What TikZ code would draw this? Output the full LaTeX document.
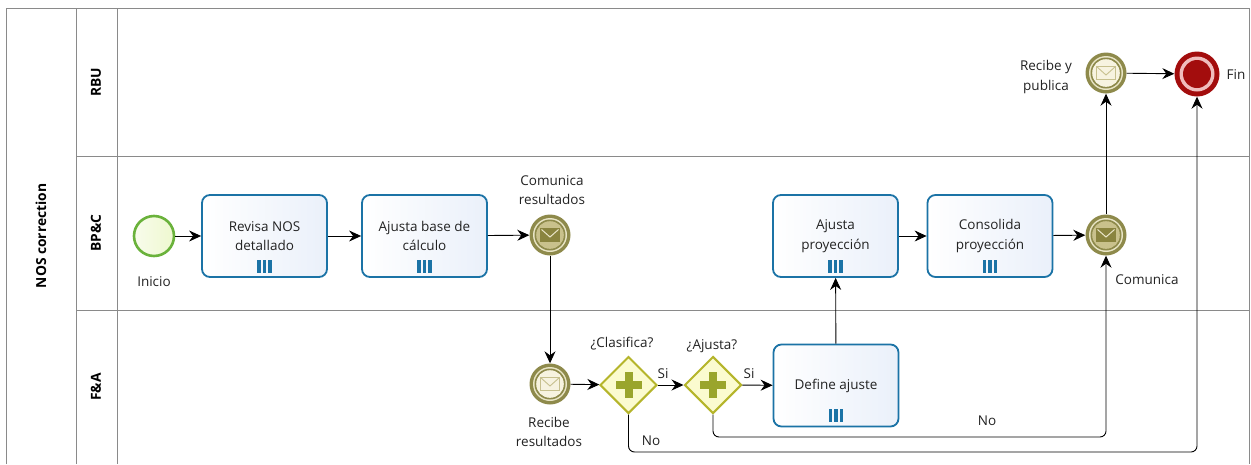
\documentclass[tikz,border=0pt]{standalone}
\usepackage{fontspec}
\setmainfont{Open Sans}
\usetikzlibrary{arrows.meta,shapes.geometric,calc}

\definecolor{poolline}{HTML}{8A8A8A}
\definecolor{taskblue}{HTML}{1B73A6}
\definecolor{taskfillR}{HTML}{EAF0FA}
\definecolor{olive}{HTML}{8E8A4B}
\definecolor{olivegap}{HTML}{E9E5C6}
\definecolor{throwfill}{HTML}{C9C18C}
\definecolor{envdark}{HTML}{8A843F}
\definecolor{envlight}{HTML}{EAE5C8}
\definecolor{catchfill}{HTML}{F7F3E0}
\definecolor{catchenv}{HTML}{C7C08E}
\definecolor{gwline}{HTML}{B5B52B}
\definecolor{gwfill}{HTML}{FBFBCF}
\definecolor{gwplus}{HTML}{9AA52C}
\definecolor{endred}{HTML}{A30D0D}
\definecolor{endpink}{HTML}{F0BDBD}
\definecolor{startgreen}{HTML}{6AB23B}
\definecolor{startfill}{HTML}{EEF8CF}
\definecolor{txt}{HTML}{222222}

\tikzset{
  lbl/.style={text=txt, font=\fontsize{13.5}{19.5}\selectfont, align=center, inner sep=0pt},
  lanelbl/.style={text=black, font=\bfseries\fontsize{13.8}{16}\selectfont, rotate=90, inner sep=0pt},
  task/.style={rectangle, rounded corners=8pt, draw=taskblue, line width=1.8pt,
    left color=white, right color=taskfillR, minimum width=125pt, minimum height=82pt,
    text=txt, font=\fontsize{13.5}{19.5}\selectfont, align=center, inner sep=0pt},
  msgev/.style={circle, fill=olive, draw=none, minimum size=41pt, inner sep=0pt},
  startev/.style={circle, draw=startgreen, line width=2.6pt, left color=startfill!40!white,
    right color=startfill, minimum size=40pt, inner sep=0pt},
  endev/.style={circle, fill=endred, draw=none, minimum size=45pt, inner sep=0pt},
  gateway/.style={diamond, aspect=1, draw=gwline, line width=2pt, fill=gwfill,
    minimum width=57pt, minimum height=57pt, inner sep=0pt},
  flow/.style={draw=black, line width=0.9pt, -{Stealth[length=12pt,width=11pt,inset=4pt]}},
  pool/.style={draw=poolline, line width=0.8pt},
}

% multi-instance marker: three bars at the bottom of a task
\newcommand{\multimark}[1]{%
  \foreach \dx in {-5.5,0,5.5}{%
    \fill[taskblue] ([xshift=\dx pt-1.6pt, yshift=5pt]#1.south) rectangle ([xshift=\dx pt+1.6pt, yshift=18pt]#1.south);}}

% rings and envelope of a message event (throw or catch)
\newcommand{\msgrings}[3]{%
  \fill[olivegap] (#1.center) circle[radius=17pt];
  \fill[olive] (#1.center) circle[radius=15.5pt];
  \fill[#2] (#1.center) circle[radius=13.8pt];
  \filldraw[fill=#3, draw=#3, line width=0.6pt] ([xshift=-9.5pt,yshift=6.5pt]#1.center) rectangle ([xshift=9.5pt,yshift=-6.5pt]#1.center);}
\newcommand{\envthrow}[1]{%
  \msgrings{#1}{throwfill}{envdark}
  \draw[envlight, line width=1pt] ([xshift=-8.5pt,yshift=5.5pt]#1.center) -- ([yshift=-2pt]#1.center) -- ([xshift=8.5pt,yshift=5.5pt]#1.center);}
\newcommand{\envcatch}[1]{%
  \msgrings{#1}{catchfill}{catchfill}
  \draw[catchenv, line width=0.9pt] ([xshift=-9.5pt,yshift=6.5pt]#1.center) rectangle ([xshift=9.5pt,yshift=-6.5pt]#1.center);
  \draw[catchenv, line width=0.9pt] ([xshift=-9.5pt,yshift=6.5pt]#1.center) -- ([yshift=-2pt]#1.center) -- ([xshift=9.5pt,yshift=6.5pt]#1.center);}
\newcommand{\gwplus}[1]{%
  \fill[gwplus] ([xshift=-13pt,yshift=-4pt]#1.center) rectangle ([xshift=13pt,yshift=4pt]#1.center);
  \fill[gwplus] ([xshift=-4pt,yshift=-13pt]#1.center) rectangle ([xshift=4pt,yshift=13pt]#1.center);}

\begin{document}
\begin{tikzpicture}[x=1pt,y=-1pt]
\useasboundingbox (0,0) rectangle (1251,464);
\fill[white] (0,0) rectangle (1251,464);

% pool and lanes
\draw[pool] (6,464) -- (6,8) -- (1249,8) -- (1249,464);
\draw[pool] (76,8) -- (76,464);
\draw[pool] (117,8) -- (117,464);
\draw[pool] (76,156) -- (1249,156);
\draw[pool] (76,310) -- (1249,310);
\node[lanelbl] (pooltitle) at (41,236) {NOS correction};
\node[lanelbl] (lrbu) at (96,82) {RBU};
\node[lanelbl] (lbpc) at (96,233) {BP\&C};
\node[lanelbl] (lfa) at (96,387) {F\&A};

% BP&C lane
\node[startev] (start) at (154,236) {};
\node[task] (revisa) at (264.5,236) {Revisa NOS\\detallado};
\node[task] (ajbase) at (424.5,236) {Ajusta base de\\cálculo};
\node[msgev] (comres) at (550,235) {};
\node[task] (ajproy) at (835.5,236) {Ajusta\\proyección};
\node[task] (consol) at (990,236) {Consolida\\proyección};
\node[msgev] (comun) at (1106,235) {};

% F&A lane
\node[msgev] (recres) at (550,384) {};
\node[gateway] (gclas) at (628.5,385) {};
\node[gateway] (gajus) at (713,385) {};
\node[task] (define) at (836,385.5) {Define ajuste};

% RBU lane
\node[msgev] (recpub) at (1106,73) {};
\node[endev] (fin) at (1197,74) {};

% event and gateway details
\envthrow{comres}
\envthrow{comun}
\envcatch{recres}
\envcatch{recpub}
\gwplus{gclas}
\gwplus{gajus}
\fill[endpink] (fin.center) circle[radius=17.5pt];
\fill[endred] (fin.center) circle[radius=14pt];
\multimark{revisa}
\multimark{ajbase}
\multimark{ajproy}
\multimark{consol}
\multimark{define}

% labels
\node[lbl] (linicio) at (154,282) {Inicio};
\node[lbl] (lcomres) at (552,190) {Comunica\\resultados};
\node[lbl] (lrecres) at (549,432) {Recibe\\resultados};
\node[lbl] (lcomun) at (1147,280) {Comunica};
\node[lbl] (lrecpub) at (1046,77) {Recibe y\\publica};
\node[lbl] (lfin) at (1236,75) {Fin};
\node[lbl] (lclas) at (622,344) {¿Clasifica?};
\node[lbl] (lajus) at (712,346) {¿Ajusta?};
\node[lbl] (lsi1) at (663,374) {Si};
\node[lbl] (lsi2) at (749,374) {Si};
\node[lbl] (lno1) at (651,441) {No};
\node[lbl] (lno2) at (987,421) {No};

% sequence flows
\draw[flow] (start) -- (revisa);
\draw[flow] (revisa) -- (ajbase);
\draw[flow] (ajbase) -- (comres);
\draw[flow] (comres) -- (recres);
\draw[flow] (recres) -- (gclas);
\draw[flow] (gclas) -- (gajus);
\draw[flow] (gajus) -- (define);
\draw[flow] (define) -- (ajproy);
\draw[flow] (ajproy) -- (consol);
\draw[flow] (consol) -- (comun);
\draw[flow] (comun) -- (recpub);
\draw[flow] (recpub) -- (fin);
\draw[flow, rounded corners=6pt] (gajus.south) -- (gajus.south |- 0,437) -- (comun.south |- 0,437) -- (comun.south);
\draw[flow, rounded corners=6pt] (gclas.south) -- (gclas.south |- 0,452) -- (fin.south |- 0,452) -- (fin.south);
\end{tikzpicture}
\end{document}
